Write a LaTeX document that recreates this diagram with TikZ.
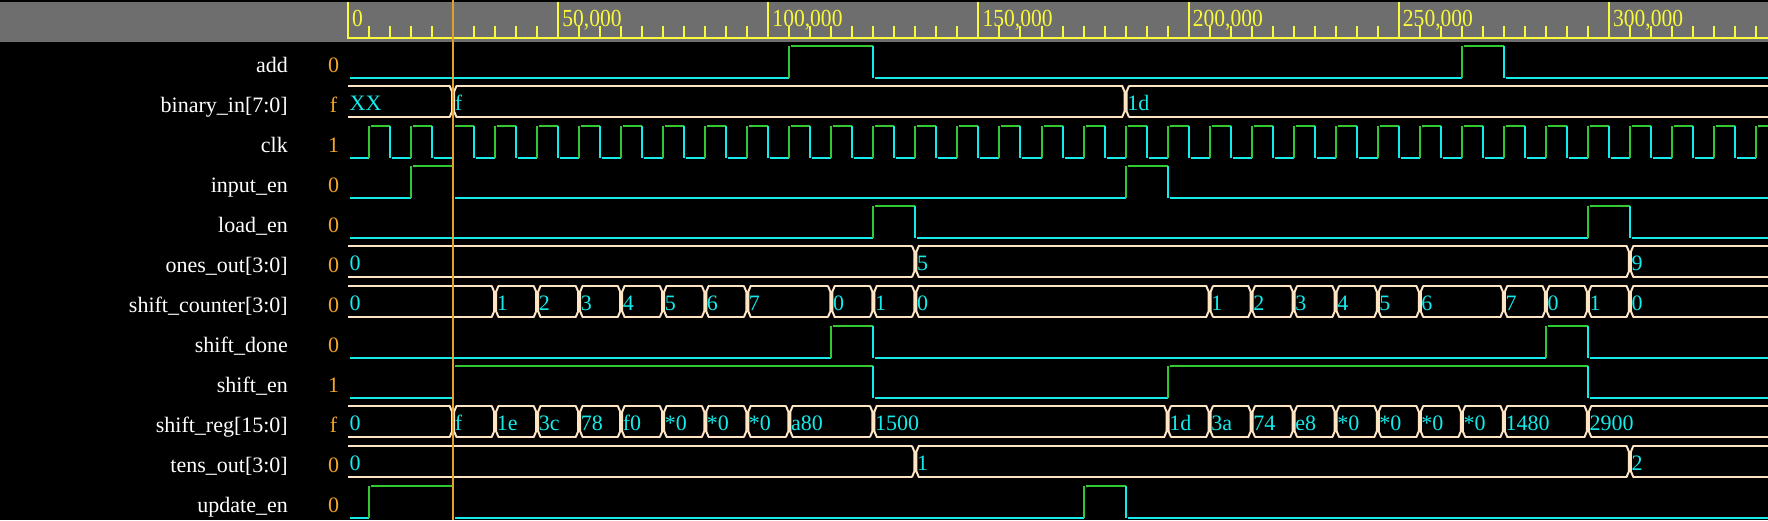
\documentclass[tikz,border=0pt]{standalone}
\usepackage{fontspec}
\setmainfont{Liberation Serif}
\definecolor{hdrgray}{RGB}{110,110,110}
\definecolor{rulery}{RGB}{250,250,60}
\definecolor{wavecyan}{RGB}{20,235,235}
\definecolor{wavegreen}{RGB}{50,200,50}
\definecolor{busbeige}{RGB}{255,228,196}
\definecolor{valorange}{RGB}{245,165,40}
\definecolor{cursorc}{RGB}{228,160,45}
\tikzset{
  lowire/.style={draw=wavecyan, line width=2pt},
  hiwire/.style={draw=wavegreen, line width=2pt},
  buswire/.style={draw=busbeige, line width=2pt},
  rulerline/.style={draw=rulery, line width=2pt},
  signame/.style={text=white, font=\fontsize{22}{24}\selectfont, inner sep=0pt},
  sigval/.style={text=valorange, font=\fontsize{22}{24}\selectfont, inner sep=0pt},
  wavetext/.style={text=wavecyan, font=\fontsize{22}{24}\selectfont, inner sep=0pt},
  rulertext/.style={text=rulery, font=\fontsize{24.5}{26}\selectfont, inner sep=0pt, xscale=0.88},
}
% one level of a 1-bit signal: row, from, to, level
\newcommand\lvl[4]{%
  \pgfmathsetmacro\wA{#2}\pgfmathsetmacro\wB{#3}%
  \pgfmathsetmacro\wH{45.7+40*#1}\pgfmathsetmacro\wL{\wH+32}%
  \ifnum#4=1
    \draw[hiwire] (\wA,\wL) -- (\wA,\wH) ([xshift=2pt]\wA,\wH) -- (\wB,\wH);
  \else
    \ifdim\wA pt>0pt \draw[lowire] (\wA,\wH) -- (\wA,\wL); \fi
    \draw[lowire] ([xshift=2pt]\wA,\wL) -- (\wB,\wL);
  \fi}
% a bus row: row, list of start/value
\newcommand\busrow[2]{%
  \pgfmathsetmacro\bT{45.7+40*#1}\pgfmathsetmacro\bB{\bT+31.6}%
  \draw[buswire] (0,\bT) -- (338,\bT) (0,\bB) -- (338,\bB);
  \foreach \t/\v in {#2}{
    \ifdim\t pt>0pt
      \fill[black] ([xshift=-3pt]\t,\bT-2) rectangle ([xshift=3pt]\t,\bB+2);
      \draw[buswire] ([xshift=-3.5pt]\t,\bT) -- ([xshift=-1pt]\t,\bT+6) -- ([xshift=-1pt]\t,\bB-6) -- ([xshift=-3.5pt]\t,\bB)
        ([xshift=3.5pt]\t,\bT) -- ([xshift=1pt]\t,\bT+6) -- ([xshift=1pt]\t,\bB-6) -- ([xshift=3.5pt]\t,\bB);
    \fi
    \node[wavetext, anchor=base west] (v#1-\t) at ([xshift=1.5pt]\t,\bT+24.3) {\v};
  }}
\begin{document}
\begin{tikzpicture}[x=1pt, y=-1pt, line join=round]
  \def\W{1768} \def\Ht{520}
  \useasboundingbox (0,0) rectangle (\W,\Ht);
  \fill[black] (0,0) rectangle (\W,\Ht);
  \fill[hdrgray] (0,1.5) rectangle (\W,41.7);
  % signal names and values at the cursor
  \foreach \nm/\vl [count=\i from 0] in {add/0,binary\_in[7:0]/f,clk/1,input\_en/0,load\_en/0,ones\_out[3:0]/0,
      shift\_counter[3:0]/0,shift\_done/0,shift\_en/1,shift\_reg[15:0]/f,tens\_out[3:0]/0,update\_en/0}
  {
    \node[signame, anchor=base east] (name\i) at (288,{72+40*\i}) {\nm};
    \node[sigval, anchor=base] (cur\i) at (333.5,{72+40*\i}) {\vl};
  }
  \begin{scope}[shift={(348pt,0pt)}, x=4.203pt]
    \clip (-1,0) rectangle (338,\Ht);
    % time ruler
    \draw[rulerline] (-0.2,37.7) -- (338,37.7);
    \foreach \t in {5,10,...,335} {\draw[rulerline] (\t,26) -- (\t,37.7);}
    \foreach \t/\lab in {0/0,50/{50,000},100/{100,000},150/{150,000},200/{200,000},250/{250,000},300/{300,000}}
    {
      \draw[rulerline] (\t,1.7) -- (\t,37.7);
      \node[rulertext, anchor=base west] (tick\t) at ([xshift=4pt]\t,26) {\lab};
    }
    % add
    \foreach \p/\q/\lv in {0/105/0,105/125/1,125/265/0,265/275/1,275/340/0} {\lvl{0}{\p}{\q}{\lv}}
    % binary_in
    \busrow{1}{0/XX,25/f,185/1d}
    % clk
    \foreach \p in {0,10,...,330} {\lvl{2}{\p}{\p+5}{0} \lvl{2}{\p+5}{\p+10}{1}}
    % input_en
    \foreach \p/\q/\lv in {0/15/0,15/25/1,25/185/0,185/195/1,195/340/0} {\lvl{3}{\p}{\q}{\lv}}
    % load_en
    \foreach \p/\q/\lv in {0/125/0,125/135/1,135/295/0,295/305/1,305/340/0} {\lvl{4}{\p}{\q}{\lv}}
    % ones_out
    \busrow{5}{0/0,135/5,305/9}
    % shift_counter
    \busrow{6}{0/0,35/1,45/2,55/3,65/4,75/5,85/6,95/7,115/0,125/1,135/0,
      205/1,215/2,225/3,235/4,245/5,255/6,275/7,285/0,295/1,305/0}
    % shift_done
    \foreach \p/\q/\lv in {0/115/0,115/125/1,125/285/0,285/295/1,295/340/0} {\lvl{7}{\p}{\q}{\lv}}
    % shift_en
    \foreach \p/\q/\lv in {0/25/0,25/125/1,125/195/0,195/295/1,295/340/0} {\lvl{8}{\p}{\q}{\lv}}
    % shift_reg
    \busrow{9}{0/0,25/f,35/1e,45/3c,55/78,65/f0,75/*0,85/*0,95/*0,105/a80,125/1500,
      195/1d,205/3a,215/74,225/e8,235/*0,245/*0,255/*0,265/*0,275/1480,295/2900}
    % tens_out
    \busrow{10}{0/0,135/1,305/2}
    % update_en
    \foreach \p/\q/\lv in {0/5/0,5/25/1,25/175/0,175/185/1,185/340/0} {\lvl{11}{\p}{\q}{\lv}}
    % cursor
    \draw[cursorc, line width=2pt] (25,0) -- (25,\Ht);
  \end{scope}
\end{tikzpicture}
\end{document}
